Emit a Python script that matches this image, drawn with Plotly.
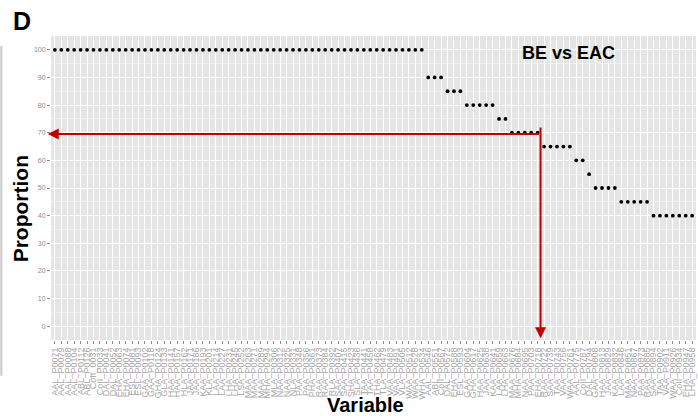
import plotly.graph_objects as go

# ---- data ----
variables = [
    "AAL_P0071", "AAL_P0079", "AAL_P0088", "AAL_P0104", "ABL_P0112", "ABL_P0126", "CoII_0031", "CoII_P0033",
    "DAL_P0041", "DAL_P0052", "EHA_P0063", "EHA_P0074", "ESL_P0081", "ESL_P0093", "GAA_P0102", "GAA_P0118",
    "GHA_P0124", "GLA_P0133", "HAA_P0141", "HAA_P0157", "HLA_P0162", "JAA_P0171", "JAA_P0186", "KAA_P0193",
    "KLA_P0201", "LAA_P0214", "LAA_P0227", "LHA_P0231", "LHA_P0245", "LSA_P0252", "MAA_P0263", "MAA_P0271",
    "MAA_P0289", "MHA_P0294", "MLA_P0306", "NAA_P0312", "NAA_P0325", "NLA_P0331", "PAA_P0348", "PAA_P0356",
    "PHA_P0361", "RAA_P0373", "RAA_P0384", "RLA_P0392", "SAA_P0407", "SAA_P0415", "SHA_P0423", "SLA_P0436",
    "TAA_P0441", "TAA_P0458", "THA_P0462", "TLA_P0479", "VAA_P0483", "VAA_P0491", "VLA_P0505", "WAA_P0512",
    "WAA_P0528", "WHA_P0534",
    "AAL_P0546", "ABL_P0551", "CoII_P0567",
    "DAL_P0572", "EHA_P0588", "ESL_P0593",
    "GAA_P0604", "GHA_P0617", "HAA_P0625", "JAA_P0638", "KAA_P0641",
    "LAA_P0659", "LHA_P0663",
    "MAA_P0676", "MHA_P0684", "NAA_P0695", "PAA_P0703", "EHA_P0718",
    "RAA_P0722", "SAA_P0739", "TAA_P0743", "VAA_P0756", "WAA_P0761",
    "AAL_P0775", "CoII_P0787",
    "DAL_P0794",
    "GAA_P0808", "HAA_P0813", "JAA_P0829", "KAA_P0832",
    "LAA_P0846", "MAA_P0851", "NAA_P0867", "PAA_P0873", "RAA_P0885",
    "SAA_P0894", "TAA_P0902", "VAA_P0911", "WAA_P0926", "CoII_P0934", "EHA_P0947", "LHA_P0958",
]
proportion = (
    [100] * 58
    + [90] * 3
    + [85] * 3
    + [80] * 5
    + [75] * 2
    + [70] * 5
    + [65] * 5
    + [60] * 2
    + [55] * 1
    + [50] * 4
    + [45] * 5
    + [40] * 7
)
y_ticks = [0, 10, 20, 30, 40, 50, 60, 70, 80, 90, 100]

FONT = "Liberation Sans, Arial, sans-serif"
RED = "#c00000"

fig = go.Figure()
fig.add_trace(go.Scatter(
    x=variables, y=proportion, mode="markers",
    marker=dict(color="black", size=3.8, line=dict(width=0)),
    hoverinfo="x+y", showlegend=False,
))

n = len(variables)
fig.update_layout(
    width=698, height=416,
    margin=dict(l=51, r=2, t=36, b=76),
    paper_bgcolor="white", plot_bgcolor="#e5e5e5",
    font=dict(family=FONT, color="#7f7f7f"),
    xaxis=dict(
        type="category", range=[-0.6, n - 0.4],
        tickmode="array", tickvals=variables, ticktext=variables,
        showgrid=True, gridcolor="white", gridwidth=1,
        tickangle=-90, tickfont=dict(size=9, color="#a6a6a6"),
        ticks="outside", ticklen=3, tickcolor="#8c8c8c", tickwidth=1,
        zeroline=False, showline=False, automargin=False,
    ),
    yaxis=dict(
        range=[-5, 105], tickvals=y_ticks,
        showgrid=True, gridcolor="white", gridwidth=1,
        minor=dict(tickvals=[5, 15, 25, 35, 45, 55, 65, 75, 85, 95], showgrid=True,
                   gridcolor="#f0f0f0", gridwidth=0.5),
        tickfont=dict(size=7, color="#8c8c8c"),
        ticks="outside", ticklen=3, tickcolor="#8c8c8c", tickwidth=1,
        zeroline=False, showline=False, automargin=False,
    ),
)

# red arrows
fig.add_annotation(x=-1.1, y=69.5, ax=75.45, ay=69.5, xref="x", yref="y", axref="x", ayref="y",
                   text="", showarrow=True, arrowhead=2, arrowsize=1.1, arrowwidth=2, arrowcolor=RED)
fig.add_annotation(x=75.45, y=-4.4, ax=75.45, ay=72.4, xref="x", yref="y", axref="x", ayref="y",
                   text="", showarrow=True, arrowhead=2, arrowsize=1.1, arrowwidth=2, arrowcolor=RED)

# texts
fig.add_annotation(x=0.803, y=0.944, xref="paper", yref="paper", xanchor="center", yanchor="middle",
                   text="<b>BE vs EAC</b>", showarrow=False, font=dict(family=FONT, size=18, color="black"))
fig.add_annotation(x=-0.062, y=1.05, xref="paper", yref="paper", xanchor="left", yanchor="middle",
                   text="<b>D</b>", showarrow=False, font=dict(family=FONT, size=25, color="black"))
fig.add_annotation(x=-0.048, y=0.43, xref="paper", yref="paper", xanchor="center", yanchor="middle",
                   text="<b>Proportion</b>", textangle=-90,
                   showarrow=False, font=dict(family=FONT, size=21, color="black"))
fig.add_annotation(x=0.487, y=-0.215, xref="paper", yref="paper", xanchor="center", yanchor="middle",
                   text="<b>Variable</b>", showarrow=False, font=dict(family=FONT, size=20, color="black"))

# left border remnant
fig.add_shape(type="line", xref="paper", yref="paper", x0=-0.077, x1=-0.077, y0=-0.118, y1=0.967,
              line=dict(color="#c8c8c8", width=2))

fig.write_html("out.html", config={"displayModeBar": False},
               post_script="document.body.style.margin='0';")
